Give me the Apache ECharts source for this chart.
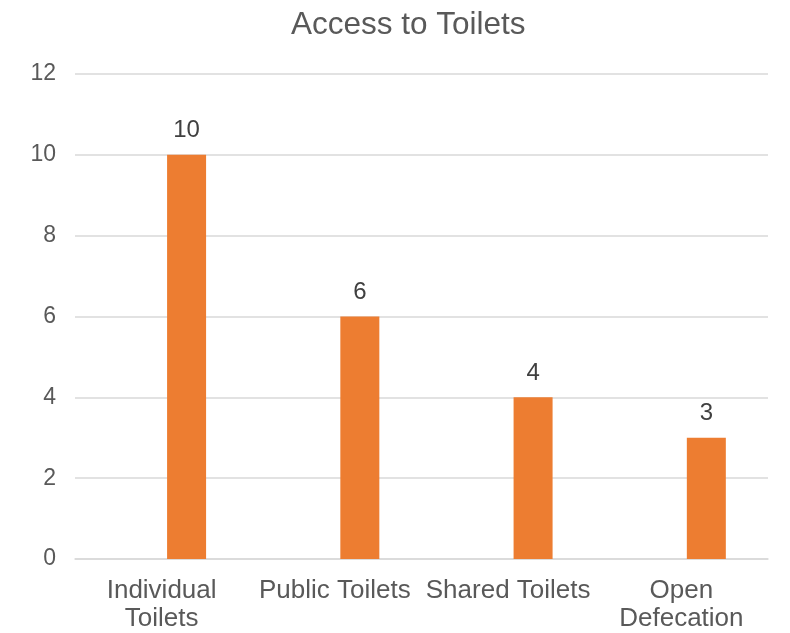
<!DOCTYPE html>
<html>
<head>
<meta charset="utf-8">
<title>Access to Toilets</title>
<script src="https://cdn.jsdelivr.net/npm/echarts@6/dist/echarts.min.js"></script>
<style>
  html, body { margin: 0; padding: 0; background: #ffffff; }
  #chart { width: 790px; height: 633px; }
</style>
</head>
<body>
<div id="chart"></div>
<script>
// Toilet access categories and counts
const categories = ['Individual\nToilets', 'Public Toilets', 'Shared Toilets', 'Open\nDefecation'];
const counts = [10, 6, 4, 3];
const yTicks = { min: 0, max: 12, interval: 2 };

const FONT = '"Liberation Sans", Arial, Helvetica, sans-serif';

const chart = echarts.init(document.getElementById('chart'), null, { renderer: 'canvas' });

chart.setOption({
  backgroundColor: '#ffffff',
  animation: false,
  title: {
    text: 'Access to Toilets',
    left: 286,
    top: 4,
    textStyle: { fontFamily: FONT, fontSize: 31.5, fontWeight: 'normal', color: '#595959' }
  },
  grid: { left: 75, right: 22, top: 74, bottom: 72, containLabel: false },
  xAxis: {
    type: 'category',
    data: categories,
    axisTick: { show: false },
    axisLine: { lineStyle: { color: '#d9d9d9', width: 1.5 } },
    axisLabel: {
      interval: 0,
      margin: 18,
      fontFamily: FONT,
      fontSize: 26,
      lineHeight: 28,
      color: '#595959'
    }
  },
  yAxis: {
    type: 'value',
    min: yTicks.min,
    max: yTicks.max,
    interval: yTicks.interval,
    axisLine: { show: false },
    axisTick: { show: false },
    splitLine: { lineStyle: { color: '#d9d9d9', width: 1.5 } },
    axisLabel: { margin: 19, fontFamily: FONT, fontSize: 23, color: '#595959' }
  },
  series: [
    {
      // placeholder series that keeps the visible bars offset to the right
      type: 'bar',
      data: categories.map(() => null),
      barWidth: 39,
      barGap: '28%',
      silent: true
    },
    {
      type: 'bar',
      data: counts,
      barWidth: 39,
      barGap: '28%',
      itemStyle: { color: '#ED7D31' },
      label: {
        show: true,
        position: 'top',
        distance: 12,
        fontFamily: FONT,
        fontSize: 24,
        color: '#404040'
      }
    }
  ]
});
</script>
</body>
</html>
